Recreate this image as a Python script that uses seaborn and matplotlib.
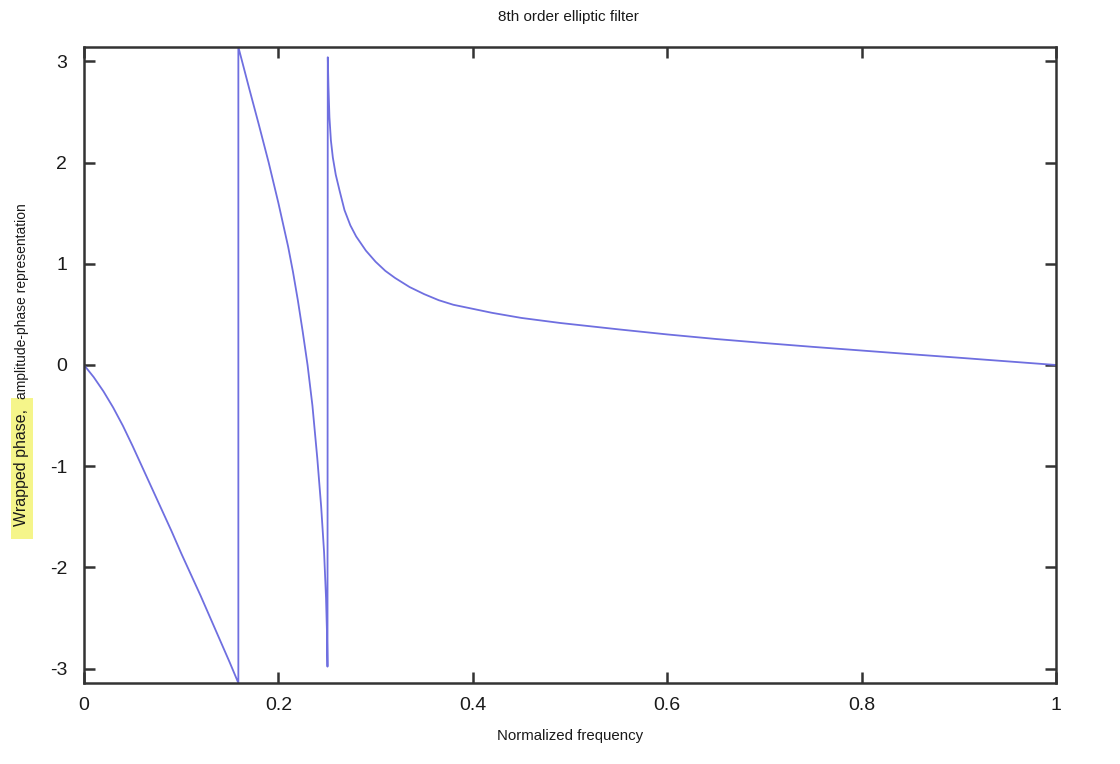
import numpy as np
import pandas as pd
import matplotlib
matplotlib.use("Agg")
import matplotlib.pyplot as plt
from matplotlib.patches import Rectangle
import seaborn as sns

PI = np.pi

# Wrapped phase curve (vertical jumps included as points)
freq_a = [0.0, 0.01, 0.02, 0.03, 0.04, 0.05, 0.06, 0.07, 0.08,
          0.09, 0.10, 0.11, 0.12, 0.13, 0.14, 0.15, 0.1588]
phase_a = [0.0, -0.12, -0.26, -0.42, -0.60, -0.80, -1.01, -1.22, -1.43,
           -1.64, -1.86, -2.07, -2.28, -2.50, -2.72, -2.94, -PI]

freq_b = [0.1588, 0.17, 0.18, 0.19, 0.20, 0.21, 0.215, 0.22, 0.225, 0.23, 0.235,
          0.24, 0.244, 0.247, 0.249, 0.250, 0.2505]
phase_b = [PI, 2.73, 2.37, 2.00, 1.60, 1.17, 0.92, 0.64, 0.33, 0.0, -0.40,
           -0.92, -1.40, -1.85, -2.30, -2.65, -2.98]

freq_c = [0.2508, 0.2515, 0.2525, 0.254, 0.256, 0.259, 0.263, 0.268, 0.274, 0.28,
          0.29, 0.30, 0.31, 0.32, 0.335, 0.35, 0.365, 0.38, 0.40, 0.42, 0.45, 0.49,
          0.55, 0.60, 0.65, 0.70, 0.75, 0.80, 0.85, 0.90, 0.95, 1.0]
phase_c = [3.04, 2.75, 2.45, 2.22, 2.05, 1.88, 1.72, 1.53, 1.38, 1.27,
           1.13, 1.02, 0.93, 0.86, 0.77, 0.70, 0.64, 0.595, 0.555, 0.515, 0.465, 0.415,
           0.352, 0.302, 0.257, 0.217, 0.179, 0.143, 0.107, 0.072, 0.036, 0.0]

x_ticks = [0, 0.2, 0.4, 0.6, 0.8, 1]
x_tick_labels = ["0", "0.2", "0.4", "0.6", "0.8", "1"]
y_ticks = [-3, -2, -1, 0, 1, 2, 3]
y_tick_labels = ["-3", "-2", "-1", "0", "1", "2", "3"]

title = "8th order elliptic filter"
xlabel = "Normalized frequency"
ylabel_hl = "Wrapped phase,"
ylabel_rest = "amplitude-phase representation"

sns.set_theme(style="white")
plt.rcParams["font.family"] = ["Liberation Sans", "DejaVu Sans"]

freq = freq_a + freq_b + freq_c
phase = phase_a + phase_b + phase_c
df = pd.DataFrame({"freq": freq, "phase": phase})

W, H = 1120, 764
fig = plt.figure(figsize=(W / 100, H / 100), dpi=100)
ax = fig.add_axes([84 / W, 1 - 683 / H, (1056 - 84) / W, (683 - 47) / H])

sns.lineplot(data=df, x="freq", y="phase", sort=False, estimator=None,
             color="#6f6fe0", linewidth=1.3, ax=ax)

ax.set_xlim(0, 1)
ax.set_ylim(-PI, PI)
ax.set_xticks(x_ticks)
ax.set_xticklabels(x_tick_labels)
ax.set_yticks(y_ticks)
ax.set_yticklabels(y_tick_labels)
ax.set_xlabel("")
ax.set_ylabel("")

for s in ax.spines.values():
    s.set_visible(True)
    s.set_color("#333333")
    s.set_linewidth(1.8)

ax.tick_params(axis="both", which="major", direction="in", length=8, width=1.8,
               color="#333333", top=True, right=True, bottom=True, left=True,
               labelsize=14, labelcolor="#1a1a1a")
ax.tick_params(axis="x", pad=10)
ax.tick_params(axis="y", pad=12)

fig.text(568 / W, 1 - 17 / H, title, ha="center", va="center", fontsize=11,
         color="#1a1a1a")
fig.text(570 / W, 1 - 736 / H, xlabel, ha="center", va="center", fontsize=10.8,
         color="#1a1a1a")

# highlighted part of the y label
fig.patches.append(Rectangle((11 / W, 1 - 539 / H), 22 / W, 141 / H,
                             transform=fig.transFigure, facecolor="#f5f58a",
                             edgecolor="none", zorder=0))
fig.text(22 / W, 1 - 468 / H, ylabel_hl, rotation=90, ha="center", va="center",
         fontsize=11.5, color="#1a1a1a")
fig.text(22 / W, 1 - 399 / H, ylabel_rest, rotation=90, ha="center", va="bottom",
         fontsize=10, color="#1a1a1a")

fig.savefig("out.png", dpi=100, facecolor="white")
